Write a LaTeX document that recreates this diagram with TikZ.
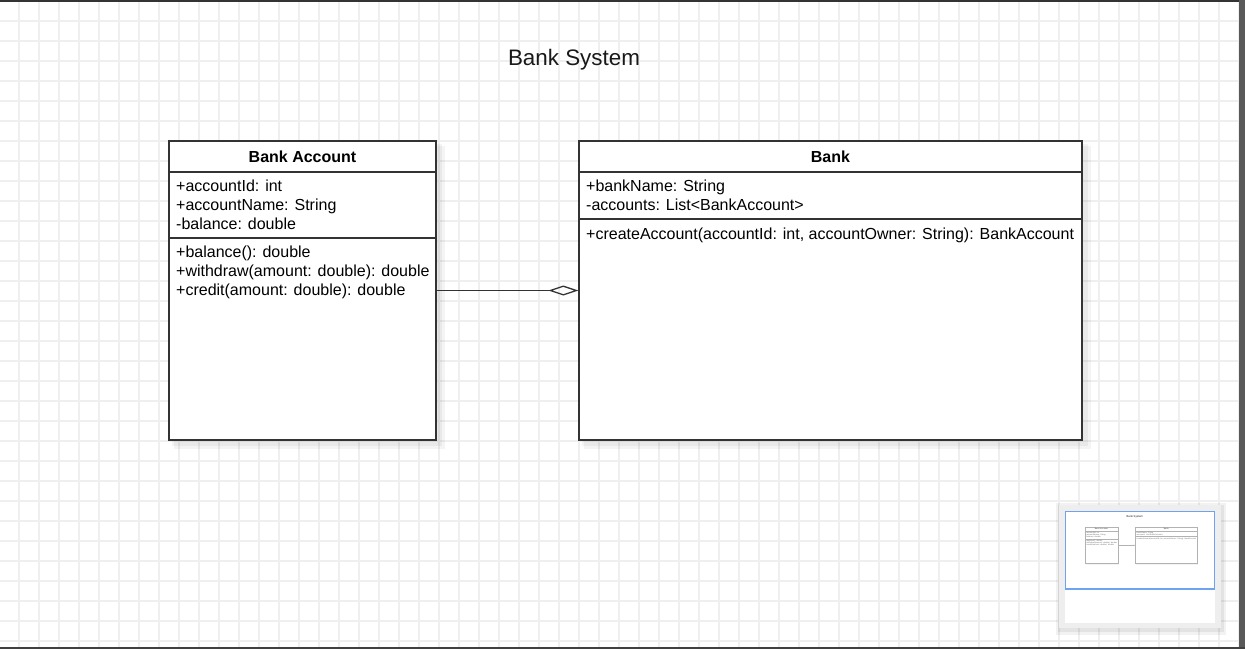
\documentclass[tikz,border=0pt]{standalone}
\usepackage{fontspec}
\setmainfont{Liberation Sans}
\usetikzlibrary{arrows.meta}
\definecolor{gridc}{HTML}{EFEFEF}
\definecolor{linec}{HTML}{333333}
\definecolor{framec}{HTML}{595959}
\definecolor{viewc}{HTML}{6FA3EF}
\definecolor{panelc}{HTML}{EEEEEE}
\def\lw{1.3pt}
\def\dlen{30pt}
\def\dwid{10pt}
\tikzset{
 umlbox/.style={draw=linec, line width=\lw, fill=white, inner sep=0},
 sepline/.style={draw=linec, line width=\lw},
 member/.style={anchor=base west, inner sep=0, font=\fontsize{16}{19}\selectfont},
 classname/.style={anchor=base, inner sep=0, font=\bfseries\fontsize{16}{19}\selectfont},
 diagtitle/.style={anchor=base, inner sep=0, font=\fontsize{22.4}{26}\selectfont, text=black!90},
 aggregation/.style={draw=linec, line width=\lw, -{Diamond[open, length=\dlen, width=\dwid]}},
 boxshadow/.style={fill=black, opacity=0.045},
 gridline/.style={draw=gridc, line width=1.3pt},
}
\newcommand\bankdiagram[1]{%
 \node[diagtitle] (#1title) at (574,65) {Bank System};
 % shadows
 \fill[boxshadow] (172,144) rectangle (442,446);
 \fill[boxshadow] (174,146) rectangle (445,449);
 \fill[boxshadow] (582,144) rectangle (1088,446);
 \fill[boxshadow] (584,146) rectangle (1091,449);
 % Bank Account class
 \node[umlbox, minimum width=267pt, minimum height=299pt] (#1acc) at (302.5,290.5) {};
 \draw[sepline] (#1acc.west |- 0,172) -- (#1acc.east |- 0,172);
 \draw[sepline] (#1acc.west |- 0,238) -- (#1acc.east |- 0,238);
 \node[classname] (#1accname) at (302.5,162) {Bank Account};
 \node[member] (#1acca) at (176,191) {+accountId: int};
 \node[member] (#1accb) at (176,210) {+accountName: String};
 \node[member] (#1accc) at (176,229) {-balance: double};
 \node[member] (#1accd) at (176,257) {+balance(): double};
 \node[member] (#1acce) at (176,276) {+withdraw(amount: double): double};
 \node[member] (#1accf) at (176,295) {+credit(amount: double): double};
 % Bank class
 \node[umlbox, minimum width=503pt, minimum height=299pt] (#1bank) at (830.5,290.5) {};
 \draw[sepline] (#1bank.west |- 0,172) -- (#1bank.east |- 0,172);
 \draw[sepline] (#1bank.west |- 0,219) -- (#1bank.east |- 0,219);
 \node[classname] (#1bankname) at (830.5,162) {Bank};
 \node[member] (#1banka) at (586,191) {+bankName: String};
 \node[member] (#1bankb) at (586,210) {-accounts: List<BankAccount>};
 \node[member] (#1bankc) at (586,239) {+createAccount(accountId: int, accountOwner: String): BankAccount};
 % aggregation
 \draw[aggregation] (#1acc.east) -- (#1bank.west);
}
\begin{document}
\begin{tikzpicture}[x=1pt, y=-1pt]
\useasboundingbox (0,0) rectangle (1245,649);
\fill[white] (0,0) rectangle (1245,649);
% grid
\foreach \x in {19,39,...,1239} \draw[gridline] (\x,0) -- (\x,649);
\foreach \y in {21,41,...,641} \draw[gridline] (0,\y) -- (1245,\y);
% main diagram
\bankdiagram{m}
% minimap
\fill[black, opacity=0.05] (1056,503) rectangle (1226,635);
\fill[black, opacity=0.06] (1058,505) rectangle (1224,632);
\fill[panelc] (1059,505) rectangle (1221,628);
\fill[white] (1065,511) rectangle (1215,623);
\begin{scope}[shift={(1064.3,509.7)}, scale=0.1227, transform shape, every node/.append style={text=black!55}]
 \colorlet{linec}{black!30}
 \def\lw{0.6pt}
 \def\dlen{3.6pt}
 \def\dwid{1.2pt}
 \bankdiagram{n}
\end{scope}
\draw[viewc, line width=1.4pt] (1065.5,511.5) rectangle (1214.5,589);
% window frame
\fill[black!80] (0,0) rectangle (1245,1.5);
\fill[framec] (1239,0) rectangle (1245,649);
\fill[black!75] (0,646.5) rectangle (1245,649);
\end{tikzpicture}
\end{document}
